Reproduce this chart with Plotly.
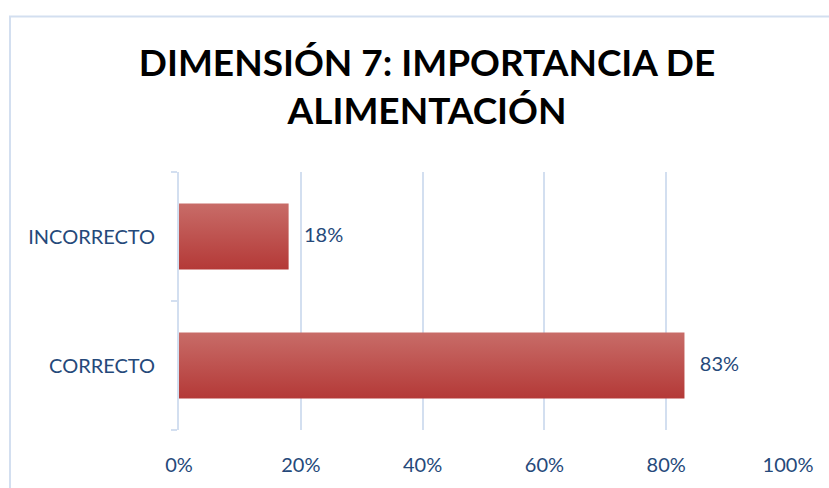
import plotly.graph_objects as go

# Data
categories = ["CORRECTO", "INCORRECTO"]
values = [83, 18]
value_labels = ["83%", "18%"]
x_ticks = [0, 20, 40, 60, 80, 100]
x_tick_labels = ["0%", "20%", "40%", "60%", "80%", "100%"]

title_text = "DIMENSIÓN 7: IMPORTANCIA DE<br>ALIMENTACIÓN"

TEXT_BLUE = "#25497A"
GRID = "#D3DFF0"
BAR_TOP = "#C86C68"
BAR_BOTTOM = "#B43937"
HALF = 0.256  # half bar thickness in category units

fig = go.Figure()

# Bars as filled rectangles so they can carry a vertical gradient
for i, (cat, v) in enumerate(zip(categories, values)):
    fig.add_trace(go.Scatter(
        x=[0, v, v, 0, 0],
        y=[i - HALF, i - HALF, i + HALF, i + HALF, i - HALF],
        mode="lines",
        line=dict(width=0),
        fill="toself",
        fillgradient=dict(type="vertical",
                          colorscale=[[0, BAR_BOTTOM], [1, BAR_TOP]]),
        hoverinfo="skip",
        showlegend=False,
    ))

# Value labels at the end of each bar
fig.add_trace(go.Scatter(
    x=values,
    y=list(range(len(categories))),
    mode="text",
    text=["   " + t for t in value_labels],
    textposition="middle right",
    textfont=dict(family="Lato", size=20, color=TEXT_BLUE),
    hoverinfo="skip",
    showlegend=False,
))

fig.update_layout(
    width=829, height=488,
    margin=dict(l=179, r=41, t=172, b=54),
    paper_bgcolor="white",
    plot_bgcolor="white",
    title=dict(
        text=title_text,
        x=427 / 829, xanchor="center", xref="container",
        y=1 - 76 / 488, yanchor="top", yref="container",
        font=dict(family="Lato", size=37, color="black", weight="bold"),
    ),
    xaxis=dict(
        range=[0, 100],
        tickvals=x_ticks, ticktext=x_tick_labels,
        showgrid=True, gridcolor=GRID, gridwidth=2,
        zeroline=False, showline=False,
        ticks="outside", ticklen=17, tickcolor="rgba(0,0,0,0)",
        tickfont=dict(family="Lato", size=20, color=TEXT_BLUE),
        fixedrange=True,
    ),
    yaxis=dict(
        range=[-0.5, 1.5],
        tickvals=list(range(len(categories))), ticktext=categories,
        showgrid=False, zeroline=False,
        showline=True, linecolor=GRID, linewidth=2,
        ticks="outside", ticklen=18, tickcolor="rgba(0,0,0,0)",
        tickfont=dict(family="Lato", size=20, color=TEXT_BLUE),
        minor=dict(tickmode="linear", tick0=-0.5, dtick=1,
                   ticks="outside", ticklen=6, tickcolor=GRID, tickwidth=2,
                   showgrid=False),
        fixedrange=True,
    ),
    shapes=[dict(
        type="rect", xref="paper", yref="paper",
        x0=(10 - 179) / 609, x1=1.2,
        y0=-0.5, y1=(434 - 14) / 262,
        line=dict(color=GRID, width=2),
        layer="below",
    )],
)

fig.write_html("out.html")
